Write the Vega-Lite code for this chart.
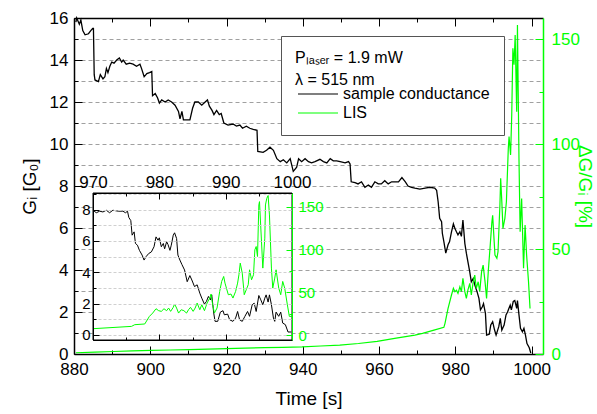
{
"$schema": "https://vega.github.io/schema/vega-lite/v6.json",
"width": 469, "height": 336,
"autosize": {"type": "none"},
"padding": {"left": 74, "top": 18, "right": 54, "bottom": 60},
"background": "white",
"config": {
  "view": {"stroke": null},
  "font": "Liberation Sans",
  "axis": {"labelFont": "Liberation Sans", "titleFont": "Liberation Sans", "titleFontWeight": "normal", "labelColor": "black", "titleColor": "black", "domainColor": "black", "tickColor": "black", "domainWidth": 1.5, "tickWidth": 1, "labelFlush": false, "labelOverlap": false, "labelFontSize": 17, "grid": false}
},
"datasets": {
"mainG": [
{"t":880.5,"G":15.8},{"t":880.7,"G":16.0},{"t":881.4,"G":15.7},{"t":881.8,"G":15.9},{"t":882.3,"G":15.4},{"t":882.9,"G":15.2},{"t":883.8,"G":15.25},{"t":884.4,"G":15.4},{"t":884.9,"G":15.5},{"t":885.1,"G":15.5},{"t":885.3,"G":13.3},{"t":885.5,"G":13.05},{"t":886.4,"G":12.97},{"t":886.9,"G":13.3},{"t":887.6,"G":13.1},{"t":888.1,"G":13.2},{"t":888.5,"G":13.6},{"t":888.9,"G":13.4},{"t":889.4,"G":13.7},{"t":889.9,"G":13.9},{"t":890.5,"G":13.85},{"t":891.2,"G":14.0},{"t":891.9,"G":14.1},{"t":892.5,"G":13.9},{"t":892.9,"G":14.0},{"t":893.7,"G":13.8},{"t":894.6,"G":13.85},{"t":895.5,"G":13.8},{"t":896.4,"G":13.7},{"t":897.3,"G":13.8},{"t":897.7,"G":13.6},{"t":898.4,"G":13.2},{"t":899.1,"G":13.35},{"t":899.8,"G":13.4},{"t":900.4,"G":13.45},{"t":900.6,"G":12.3},{"t":901.3,"G":12.4},{"t":901.9,"G":12.2},{"t":902.4,"G":11.95},{"t":903.0,"G":12.1},{"t":903.9,"G":12.0},{"t":904.7,"G":12.1},{"t":905.6,"G":12.0},{"t":906.5,"G":11.85},{"t":907.4,"G":11.55},{"t":907.8,"G":11.2},{"t":908.3,"G":11.55},{"t":908.7,"G":11.15},{"t":909.6,"G":11.15},{"t":910.4,"G":11.15},{"t":911.1,"G":11.7},{"t":911.7,"G":12.0},{"t":912.6,"G":12.0},{"t":913.5,"G":11.85},{"t":914.4,"G":12.0},{"t":915.0,"G":12.1},{"t":915.5,"G":11.8},{"t":916.2,"G":11.6},{"t":916.7,"G":11.4},{"t":917.4,"G":11.6},{"t":918.1,"G":11.4},{"t":918.6,"G":11.45},{"t":919.3,"G":11.0},{"t":920.4,"G":10.9},{"t":921.7,"G":10.95},{"t":922.6,"G":10.85},{"t":923.5,"G":10.9},{"t":924.2,"G":10.75},{"t":925.2,"G":10.85},{"t":926.1,"G":10.75},{"t":927.0,"G":10.7},{"t":928.0,"G":10.65},{"t":928.2,"G":9.65},{"t":929.6,"G":9.6},{"t":930.5,"G":9.7},{"t":931.4,"G":9.85},{"t":932.3,"G":9.7},{"t":933.2,"G":9.3},{"t":934.1,"G":9.16},{"t":934.9,"G":9.25},{"t":935.8,"G":9.1},{"t":936.7,"G":9.3},{"t":937.5,"G":8.7},{"t":938.4,"G":8.9},{"t":938.9,"G":9.3},{"t":939.7,"G":9.16},{"t":940.6,"G":9.3},{"t":941.5,"G":9.16},{"t":942.3,"G":9.1},{"t":943.2,"G":9.16},{"t":944.5,"G":9.27},{"t":945.4,"G":9.16},{"t":946.3,"G":9.1},{"t":947.2,"G":9.3},{"t":948.0,"G":9.2},{"t":948.9,"G":9.2},{"t":949.8,"G":9.16},{"t":951.1,"G":9.1},{"t":952.0,"G":9.16},{"t":952.4,"G":9.05},{"t":952.7,"G":8.2},{"t":953.7,"G":8.16},{"t":954.5,"G":8.1},{"t":955.4,"G":8.2},{"t":956.3,"G":7.94},{"t":957.2,"G":8.05},{"t":958.0,"G":7.94},{"t":958.9,"G":8.2},{"t":959.8,"G":8.1},{"t":960.6,"G":8.1},{"t":961.5,"G":8.25},{"t":962.4,"G":8.1},{"t":963.3,"G":8.2},{"t":964.2,"G":8.2},{"t":965.1,"G":8.2},{"t":966.0,"G":8.4},{"t":966.9,"G":8.2},{"t":967.6,"G":8.0},{"t":968.5,"G":7.94},{"t":969.4,"G":7.9},{"t":970.7,"G":7.85},{"t":972.1,"G":7.9},{"t":973.3,"G":7.94},{"t":974.6,"G":7.9},{"t":975.1,"G":7.8},{"t":975.5,"G":7.25},{"t":975.9,"G":6.46},{"t":976.4,"G":6.3},{"t":976.6,"G":5.75},{"t":977.0,"G":5.35},{"t":977.5,"G":4.8},{"t":978.1,"G":5.2},{"t":978.5,"G":5.35},{"t":979.0,"G":5.82},{"t":979.5,"G":6.2},{"t":979.9,"G":5.98},{"t":980.3,"G":5.82},{"t":980.7,"G":5.67},{"t":981.2,"G":5.82},{"t":981.6,"G":5.6},{"t":982.0,"G":6.38},{"t":982.5,"G":5.27},{"t":982.9,"G":4.8},{"t":983.3,"G":4.4},{"t":983.8,"G":3.9},{"t":984.2,"G":3.44},{"t":984.7,"G":3.6},{"t":985.1,"G":3.3},{"t":985.7,"G":2.97},{"t":986.2,"G":2.65},{"t":986.6,"G":2.1},{"t":987.1,"G":2.25},{"t":987.4,"G":2.4},{"t":987.9,"G":1.94},{"t":988.2,"G":0.9},{"t":988.9,"G":0.94},{"t":989.3,"G":1.38},{"t":989.8,"G":1.54},{"t":990.3,"G":1.14},{"t":990.7,"G":0.9},{"t":991.4,"G":1.3},{"t":991.8,"G":1.7},{"t":992.2,"G":1.14},{"t":992.8,"G":1.38},{"t":993.3,"G":1.86},{"t":993.7,"G":2.0},{"t":994.4,"G":2.33},{"t":994.7,"G":2.1},{"t":995.2,"G":2.5},{"t":995.6,"G":2.55},{"t":996.1,"G":2.17},{"t":996.3,"G":2.55},{"t":996.7,"G":1.86},{"t":997.1,"G":1.22},{"t":997.6,"G":1.06},{"t":998.0,"G":1.22},{"t":998.4,"G":0.9},{"t":998.8,"G":0.5},{"t":999.4,"G":0.3},{"t":999.8,"G":0.05}
],
"mainL": [
{"t":880.5,"L":0.6},{"t":885.5,"L":0.9},{"t":890.4,"L":1.2},{"t":895.3,"L":1.5},{"t":900.3,"L":1.7},{"t":905.2,"L":1.9},{"t":910.2,"L":2.1},{"t":915.1,"L":2.3},{"t":920.0,"L":2.6},{"t":924.9,"L":2.8},{"t":929.9,"L":3.0},{"t":934.8,"L":3.2},{"t":939.8,"L":3.4},{"t":944.7,"L":3.8},{"t":949.7,"L":4.2},{"t":954.6,"L":5.0},{"t":959.5,"L":6.0},{"t":964.5,"L":7.6},{"t":969.4,"L":9.0},{"t":971.4,"L":9.8},{"t":974.4,"L":11.4},{"t":977.0,"L":12.7},{"t":977.3,"L":14.6},{"t":978.1,"L":21.7},{"t":979.0,"L":28.1},{"t":979.5,"L":31.3},{"t":979.9,"L":29.7},{"t":980.3,"L":30.4},{"t":980.7,"L":28.9},{"t":981.2,"L":32},{"t":981.6,"L":29.7},{"t":982.0,"L":36},{"t":982.5,"L":29.7},{"t":982.9,"L":26.5},{"t":983.3,"L":30.4},{"t":983.8,"L":33.6},{"t":984.2,"L":28.1},{"t":984.7,"L":34.4},{"t":985.1,"L":37.6},{"t":985.5,"L":31.3},{"t":986.0,"L":34.4},{"t":986.4,"L":29.7},{"t":986.9,"L":39.2},{"t":987.3,"L":42.3},{"t":987.8,"L":34.4},{"t":988.2,"L":26.5},{"t":988.7,"L":40.7},{"t":989.1,"L":50.3},{"t":989.6,"L":63},{"t":989.8,"L":66},{"t":990.2,"L":53.4},{"t":990.4,"L":47.1},{"t":990.9,"L":45.6},{"t":991.2,"L":48.7},{"t":991.7,"L":71},{"t":991.9,"L":83.7},{"t":992.2,"L":72.5},{"t":992.5,"L":59.8},{"t":993.0,"L":64.6},{"t":993.4,"L":72.5},{"t":993.9,"L":98},{"t":994.1,"L":103.5},{"t":994.5,"L":94.8},{"t":994.8,"L":113.8},{"t":995.1,"L":145.6},{"t":995.4,"L":137.7},{"t":995.7,"L":151.9},{"t":996.1,"L":115.4},{"t":996.3,"L":156.7},{"t":996.7,"L":93.2},{"t":997.0,"L":58.2},{"t":997.4,"L":74},{"t":997.9,"L":40.8},{"t":998.3,"L":61.4},{"t":998.7,"L":47.1},{"t":999.2,"L":34.4},{"t":999.6,"L":21.7}
],
"insetG": [
{"t":970,"G":7.96},{"t":970.5,"G":7.8},{"t":971,"G":7.9},{"t":971.5,"G":7.85},{"t":972,"G":7.96},{"t":972.5,"G":7.8},{"t":973,"G":7.96},{"t":973.8,"G":7.9},{"t":974.5,"G":7.9},{"t":974.9,"G":7.8},{"t":975.2,"G":7.9},{"t":975.4,"G":7.5},{"t":975.7,"G":7.3},{"t":975.9,"G":6.37},{"t":976.2,"G":6.58},{"t":976.4,"G":5.84},{"t":976.7,"G":5.73},{"t":977,"G":5.4},{"t":977.4,"G":5.1},{"t":977.7,"G":4.78},{"t":978,"G":5.0},{"t":978.4,"G":5.2},{"t":978.8,"G":5.3},{"t":979.2,"G":5.63},{"t":979.5,"G":6.26},{"t":979.8,"G":6.05},{"t":980,"G":6.2},{"t":980.3,"G":5.63},{"t":980.6,"G":5.84},{"t":980.8,"G":5.5},{"t":981.1,"G":5.95},{"t":981.3,"G":5.78},{"t":981.6,"G":5.4},{"t":981.8,"G":5.73},{"t":982.1,"G":6.37},{"t":982.3,"G":6.52},{"t":982.6,"G":6.16},{"t":982.8,"G":5.1},{"t":983.1,"G":4.78},{"t":983.4,"G":4.5},{"t":983.8,"G":4.15},{"t":984.2,"G":3.4},{"t":984.6,"G":3.79},{"t":984.9,"G":3.51},{"t":985.3,"G":3.09},{"t":985.7,"G":3.2},{"t":986.1,"G":2.67},{"t":986.4,"G":2.35},{"t":986.8,"G":1.97},{"t":987.1,"G":2.14},{"t":987.4,"G":2.46},{"t":987.7,"G":2.24},{"t":987.9,"G":2.56},{"t":988.2,"G":1.4},{"t":988.4,"G":0.87},{"t":988.8,"G":0.87},{"t":989.2,"G":1.46},{"t":989.6,"G":1.55},{"t":989.8,"G":1.29},{"t":990.3,"G":1.33},{"t":990.6,"G":0.97},{"t":991.1,"G":0.87},{"t":991.5,"G":1.08},{"t":991.8,"G":1.5},{"t":992.1,"G":0.97},{"t":992.5,"G":0.87},{"t":992.9,"G":1.19},{"t":993.3,"G":1.5},{"t":993.6,"G":1.19},{"t":994,"G":1.93},{"t":994.3,"G":2.03},{"t":994.6,"G":1.5},{"t":995,"G":2.52},{"t":995.3,"G":2.24},{"t":995.6,"G":1.93},{"t":995.9,"G":2.35},{"t":996.1,"G":2.56},{"t":996.4,"G":2.1},{"t":996.6,"G":2.56},{"t":996.9,"G":1.93},{"t":997.2,"G":1.08},{"t":997.4,"G":0.87},{"t":997.6,"G":1.46},{"t":998,"G":1.19},{"t":998.3,"G":1.46},{"t":998.6,"G":0.76},{"t":999,"G":0.66},{"t":999.4,"G":0.19},{"t":999.9,"G":0.19}
],
"insetL": [
{"t":970,"L":7.4},{"t":975.8,"L":10.1},{"t":976.3,"L":12.1},{"t":977.8,"L":12.9},{"t":978.5,"L":21.8},{"t":979,"L":25.7},{"t":979.5,"L":30.8},{"t":979.9,"L":28.5},{"t":980.3,"L":27.7},{"t":980.7,"L":30.8},{"t":981.1,"L":28.5},{"t":981.4,"L":31.6},{"t":981.7,"L":27.7},{"t":982.1,"L":32.4},{"t":982.3,"L":36.3},{"t":982.6,"L":31.6},{"t":982.9,"L":25.7},{"t":983.3,"L":29.6},{"t":983.7,"L":28.5},{"t":984.1,"L":25.7},{"t":984.4,"L":29.6},{"t":984.7,"L":32.4},{"t":985.1,"L":27.7},{"t":985.4,"L":31.6},{"t":985.7,"L":37.4},{"t":986.1,"L":29.6},{"t":986.4,"L":35.5},{"t":986.8,"L":28.5},{"t":987.2,"L":37.4},{"t":987.6,"L":43.3},{"t":987.8,"L":48},{"t":988,"L":37.4},{"t":988.3,"L":25.7},{"t":988.7,"L":31.6},{"t":989.1,"L":51.1},{"t":989.4,"L":62.8},{"t":989.7,"L":68.6},{"t":989.9,"L":60.8},{"t":990.4,"L":47.2},{"t":990.8,"L":48},{"t":991.1,"L":43.3},{"t":991.5,"L":51.1},{"t":991.8,"L":60.8},{"t":992,"L":70.6},{"t":992.2,"L":84.2},{"t":992.5,"L":72.5},{"t":992.8,"L":47.2},{"t":993.1,"L":53},{"t":993.4,"L":58.9},{"t":993.6,"L":76.4},{"t":993.9,"L":64.7},{"t":994.2,"L":70.6},{"t":994.4,"L":99.8},{"t":994.6,"L":103.7},{"t":994.8,"L":92},{"t":995,"L":152.4},{"t":995.1,"L":156.3},{"t":995.4,"L":109.6},{"t":995.6,"L":78.4},{"t":995.9,"L":113.5},{"t":996,"L":152.4},{"t":996.2,"L":160.2},{"t":996.4,"L":163.4},{"t":996.6,"L":140.7},{"t":996.9,"L":78.4},{"t":997.1,"L":55},{"t":997.4,"L":66.7},{"t":997.6,"L":76.4},{"t":998,"L":55},{"t":998.3,"L":47.2},{"t":998.6,"L":62.8},{"t":998.9,"L":55},{"t":999.3,"L":35.5},{"t":999.6,"L":21.8},{"t":1000,"L":21.8}
]
},
"layer": [
 {
  "layer": [
   {
    "data": {"name": "mainG"},
    "mark": {"type": "line", "strokeWidth": 1.3},
    "encoding": {
     "x": {"field": "t", "type": "quantitative",
       "scale": {"domain": [880, 1003], "nice": false, "zero": false},
       "axis": {"orient": "bottom", "values": [880,890,900,910,920,930,940,950,960,970,980,990,1000], "format": "d",
         "labelExpr": "datum.value % 20 === 0 ? datum.label : ''",
         "tickSize": {"condition": {"test": "datum.value % 20 === 0", "value": -8}, "value": -4},
         "labelPadding": 15, "title": "Time [s]", "titleFontSize": 19, "titlePadding": 8}},
     "y": {"field": "G", "type": "quantitative",
       "scale": {"domain": [0, 16], "nice": false, "zero": false},
       "axis": {"orient": "left", "values": [0,1,2,3,4,5,6,7,8,9,10,11,12,13,14,15,16], "format": "d",
         "labelExpr": "datum.value % 2 === 0 ? datum.label : ''",
         "tickSize": {"condition": {"test": "datum.value % 2 === 0", "value": -8}, "value": -4},
         "labelPadding": 14, "grid": true, "gridDash": [4, 3], "gridColor": "#a0a0a0", "gridWidth": 1,
         "title": "Gᵢ [G₀]", "titleFontSize": 19, "titlePadding": 10}},
     "color": {"datum": "sample conductance", "type": "nominal",
       "scale": {"domain": ["sample conductance", "LIS"], "range": ["#000000", "#00ff00"]},
       "legend": {"orient": "none", "legendX": 207, "legendY": 18,
         "title": ["Pₗₐₛₑᵣ = 1.9 mW", "λ = 515 nm"],
         "titleFont": "Liberation Sans", "titleFontSize": 16, "titleFontWeight": "normal", "titleLineHeight": 22, "titlePadding": -2,
         "labelFont": "Liberation Sans", "labelFontSize": 16, "labelLimit": 400, "titleLimit": 400,
         "symbolType": "M-1,0H7", "symbolSize": 100, "symbolStrokeWidth": 1.2, "labelOffset": 32, "rowPadding": 3,
         "strokeColor": "#555555", "fillColor": "white", "padding": 14}}
    }
   },
   {
    "data": {"name": "mainL"},
    "mark": {"type": "line", "strokeWidth": 1.2},
    "encoding": {
     "x": {"field": "t", "type": "quantitative",
       "axis": {"orient": "top", "values": [880,890,900,910,920,930,940,950,960,970,980,990,1000],
         "labels": false, "title": null,
         "tickSize": {"condition": {"test": "datum.value % 20 === 0", "value": -8}, "value": -4}}},
     "y": {"field": "L", "type": "quantitative",
       "scale": {"domain": [0, 160], "nice": false, "zero": false},
       "axis": {"orient": "right", "values": [0,25,50,75,100,125,150], "format": "d",
         "labelExpr": "datum.value % 50 === 0 ? datum.label : ''",
         "tickSize": {"condition": {"test": "datum.value % 50 === 0", "value": -8}, "value": -4},
         "labelPadding": 16, "domainColor": "#00ff00", "tickColor": "#00ff00", "labelColor": "#00ff00",
         "title": "ΔG/Gᵢ [%]", "titleColor": "#00ff00", "titleFontSize": 19, "titlePadding": -5}},
     "color": {"datum": "LIS", "type": "nominal"}
    }
   }
  ],
  "resolve": {"scale": {"y": "independent"}, "axis": {"x": "independent", "y": "independent"}}
 },
 {
  "layer": [
   {
    "data": {"values": [{}]},
    "mark": {"type": "rect", "fill": "white", "stroke": "black", "strokeWidth": 1},
    "encoding": {
     "x": {"datum": 970, "type": "quantitative", "axis": null},
     "x2": {"datum": 1000},
     "y": {"datum": 0, "type": "quantitative", "axis": null, "scale": {"domain": [0, 1], "range": [322, 175], "nice": false, "zero": false}},
     "y2": {"datum": 1}
    }
   },
   {
    "data": {"name": "insetG"},
    "mark": {"type": "line", "color": "black", "strokeWidth": 1},
    "encoding": {
     "x": {"field": "t", "type": "quantitative",
       "scale": {"domain": [970, 1000], "range": [19, 218], "nice": false, "zero": false},
       "axis": {"orient": "top", "offset": -175, "values": [970,975,980,985,990,995,1000], "format": "d",
         "labelExpr": "datum.value % 10 === 0 ? datum.label : ''",
         "tickSize": {"condition": {"test": "datum.value % 10 === 0", "value": -6}, "value": -3},
         "labelPadding": 8, "labelFontSize": 17, "title": null, "domainWidth": 1, "zindex": 1}},
     "y": {"field": "G", "type": "quantitative",
       "scale": {"domain": [-0.32, 9.06], "range": [322, 175], "nice": false, "zero": false},
       "axis": {"orient": "left", "offset": -19, "values": [0,1,2,3,4,5,6,7,8,9], "format": "d",
         "labelExpr": "datum.value % 2 === 0 && datum.value < 9 ? datum.label : ''",
         "tickSize": {"condition": {"test": "datum.value % 2 === 0", "value": -6}, "value": -3},
         "labelPadding": 9, "labelFontSize": 15, "title": null, "domainWidth": 1,
         "grid": true, "gridColor": "#d0d0d0", "gridDash": [3, 2], "zindex": 1}}
    }
   },
   {
    "data": {"name": "insetL"},
    "mark": {"type": "line", "color": "#00ff00", "strokeWidth": 1},
    "encoding": {
     "x": {"field": "t", "type": "quantitative",
       "axis": {"orient": "bottom", "offset": -14, "values": [970,975,980,985,990,995,1000],
         "labels": false, "title": null, "domainWidth": 1,
         "tickSize": {"condition": {"test": "datum.value % 10 === 0", "value": -6}, "value": -3}, "zindex": 1}},
     "y": {"field": "L", "type": "quantitative",
       "scale": {"domain": [-5.85, 166.4], "range": [322, 175], "nice": false, "zero": false},
       "axis": {"orient": "right", "offset": -251, "values": [0,25,50,75,100,125,150], "format": "d",
         "labelExpr": "datum.value % 50 === 0 ? datum.label : ''",
         "tickSize": {"condition": {"test": "datum.value % 50 === 0", "value": -6}, "value": -3},
         "labelPadding": 12, "labelFontSize": 15, "title": null, "domainWidth": 1,
         "domainColor": "#00ff00", "tickColor": "#00ff00", "labelColor": "#00ff00", "zindex": 1}}
    }
   }
  ],
  "resolve": {"scale": {"y": "independent"}, "axis": {"x": "independent", "y": "independent"}}
 }
],
"resolve": {"scale": {"x": "independent", "y": "independent"}, "axis": {"x": "independent", "y": "independent"}}
}
